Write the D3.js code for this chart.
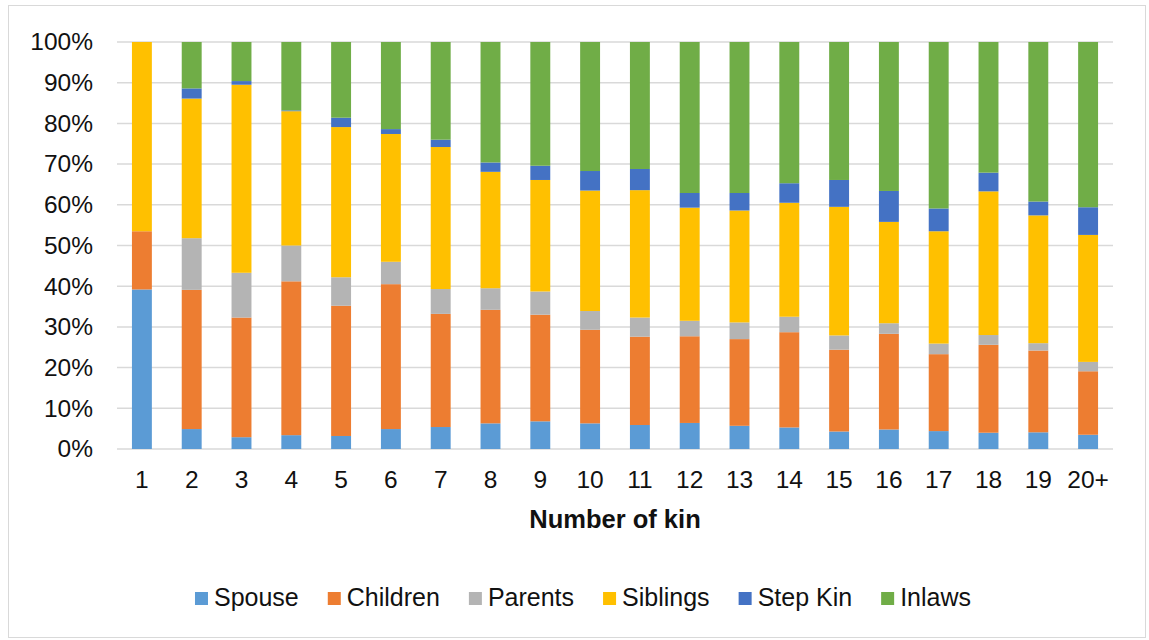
<!DOCTYPE html>
<html>
<head>
<meta charset="utf-8">
<script src="https://cdn.jsdelivr.net/npm/d3@7"></script>
<style>
  html, body { margin: 0; padding: 0; background: #fff; }
  svg { display: block; }
  text { font-family: "Liberation Sans", Arial, sans-serif; fill: #111; }
</style>
</head>
<body>
<svg id="chart" width="1149" height="640"></svg>
<script>
// Share of kin type by number of kin (percent of each bar)
const categories = ["1","2","3","4","5","6","7","8","9","10","11","12","13","14","15","16","17","18","19","20+"];
const spouse   = [39.2, 4.9, 2.9, 3.4, 3.2, 4.9, 5.4, 6.3, 6.8, 6.3, 5.9, 6.4, 5.7, 5.3, 4.3, 4.8, 4.4, 4.0, 4.1, 3.5];
const children = [14.3, 34.2, 29.4, 37.8, 32.0, 35.6, 27.8, 27.9, 26.2, 23.0, 21.7, 21.3, 21.3, 23.4, 20.1, 23.5, 18.9, 21.6, 20.1, 15.6];
const parents  = [0.0, 12.7, 11.0, 8.8, 7.0, 5.5, 6.1, 5.3, 5.7, 4.6, 4.7, 3.8, 4.1, 3.8, 3.5, 2.6, 2.6, 2.4, 1.8, 2.3];
const siblings = [46.5, 34.3, 46.2, 33.0, 36.9, 31.4, 34.9, 28.6, 27.4, 29.6, 31.3, 27.8, 27.5, 28.0, 31.6, 24.9, 27.6, 35.3, 31.4, 31.2];
const stepKin  = [0.0, 2.5, 0.9, 0.2, 2.3, 1.2, 1.8, 2.3, 3.5, 4.8, 5.2, 3.6, 4.3, 4.8, 6.6, 7.6, 5.6, 4.6, 3.4, 6.8];
const inlaws   = [0.0, 11.4, 9.6, 16.8, 18.6, 21.4, 24.0, 29.6, 30.4, 31.7, 31.2, 37.1, 37.1, 34.7, 33.9, 36.6, 40.9, 32.1, 39.2, 40.6];
const seriesNames = ["Spouse", "Children", "Parents", "Siblings", "Step Kin", "Inlaws"];
const seriesColors = ["#5B9BD5", "#ED7D31", "#B4B4B4", "#FFC000", "#4472C4", "#70AD47"];
const yTicks = [0, 0.1, 0.2, 0.3, 0.4, 0.5, 0.6, 0.7, 0.8, 0.9, 1.0];

const seriesValues = [spouse, children, parents, siblings, stepKin, inlaws];
const rows = categories.map((c, i) => {
  const r = { cat: c };
  seriesNames.forEach((s, k) => { r[s] = seriesValues[k][i]; });
  return r;
});

const svg = d3.select("#chart");
const plot = { left: 117, right: 1113, top: 42, bottom: 449 };

// outer frame
svg.append("rect")
  .attr("x", 8.5).attr("y", 5.5)
  .attr("width", 1137).attr("height", 632)
  .attr("fill", "#fff").attr("stroke", "#d9d9d9").attr("stroke-width", 1);

const x = d3.scaleBand()
  .domain(categories)
  .range([plot.left, plot.right])
  .paddingInner(0.6)
  .paddingOuter(0.3);

const y = d3.scaleLinear().domain([0, 1]).range([plot.bottom, plot.top]);

// gridlines
svg.append("g")
  .selectAll("line")
  .data(yTicks)
  .join("line")
  .attr("x1", plot.left).attr("x2", plot.right)
  .attr("y1", d => y(d)).attr("y2", d => y(d))
  .attr("stroke", "#d9d9d9").attr("stroke-width", 1.5);

// y axis labels
const yAxis = d3.axisLeft(y).tickValues(yTicks).tickFormat(d3.format(".0%")).tickSize(0).tickPadding(0);
const gy = svg.append("g").attr("transform", `translate(${93},0)`).call(yAxis);
gy.select(".domain").remove();
gy.selectAll("text")
  .attr("font-size", 24.5)
  .attr("font-family", "Liberation Sans, Arial, sans-serif")
  .attr("fill", "#111");

// stacked bars
const stack = d3.stack().keys(seriesNames).offset(d3.stackOffsetExpand);
const layers = stack(rows);

svg.append("g")
  .selectAll("g")
  .data(layers)
  .join("g")
  .attr("fill", (d, i) => seriesColors[i])
  .selectAll("rect")
  .data(d => d)
  .join("rect")
  .attr("x", d => x(d.data.cat))
  .attr("width", x.bandwidth())
  .attr("y", d => y(d[1]))
  .attr("height", d => Math.max(0, y(d[0]) - y(d[1])));

// x axis labels
const xAxis = d3.axisBottom(x).tickSize(0).tickPadding(0);
const gx = svg.append("g").attr("transform", `translate(0,${plot.bottom})`).call(xAxis);
gx.select(".domain").remove();
gx.selectAll("text")
  .attr("y", 39)
  .attr("dy", 0)
  .attr("font-size", 24.5)
  .attr("font-family", "Liberation Sans, Arial, sans-serif")
  .attr("fill", "#111");

// axis title
svg.append("text")
  .attr("x", (plot.left + plot.right) / 2)
  .attr("y", 528)
  .attr("text-anchor", "middle")
  .attr("font-size", 25.5)
  .attr("font-weight", "bold")
  .text("Number of kin");

// legend
const legend = svg.append("g");
const items = legend.selectAll("g")
  .data(seriesNames)
  .join("g");
items.append("rect")
  .attr("width", 13).attr("height", 13)
  .attr("y", 592)
  .attr("fill", (d, i) => seriesColors[i]);
items.append("text")
  .attr("x", 19)
  .attr("y", 606)
  .attr("font-size", 25)
  .text(d => d);

let cursor = 0;
const positions = [];
items.each(function () {
  positions.push(cursor);
  const w = d3.select(this).select("text").node().getComputedTextLength();
  cursor += 19 + w + 29;
});
const totalW = cursor - 29;
const startX = 583 - totalW / 2;
items.attr("transform", (d, i) => `translate(${startX + positions[i]},0)`);
</script>
</body>
</html>
